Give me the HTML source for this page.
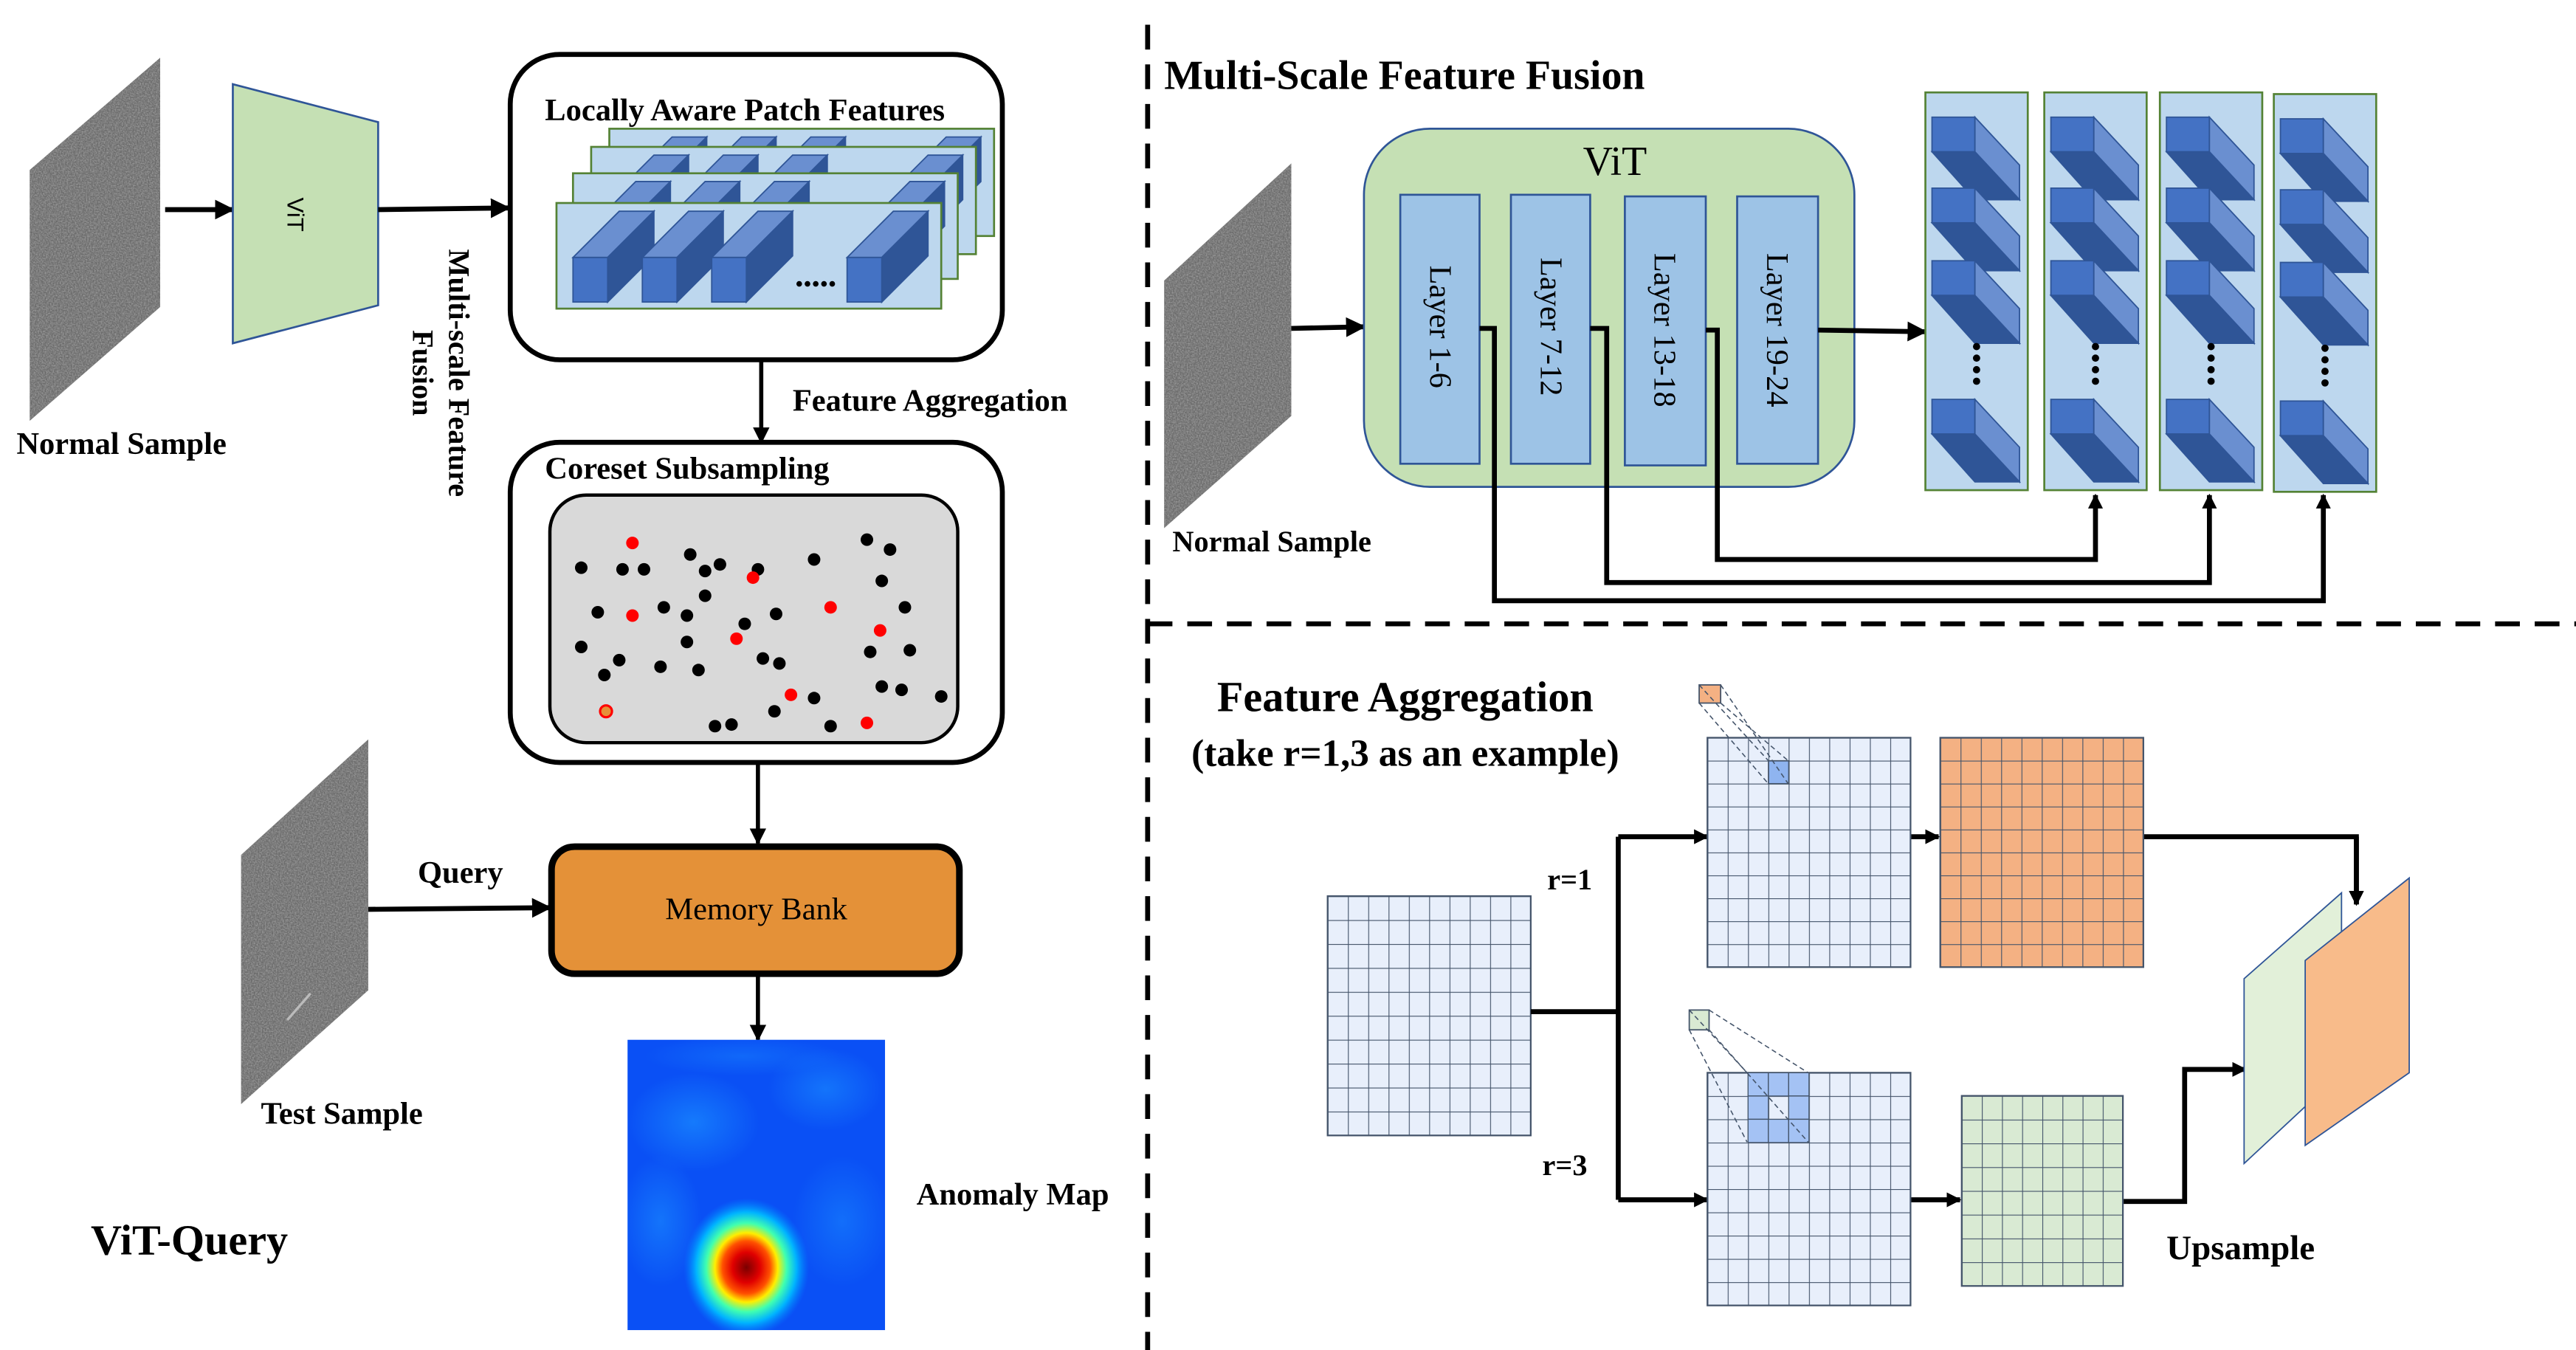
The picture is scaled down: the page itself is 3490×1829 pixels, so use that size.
<!DOCTYPE html>
<html><head><meta charset="utf-8"><style>
html,body{margin:0;padding:0;background:#fff;}
svg{display:block;}
text{font-family:"Liberation Serif",serif;}
.b{font-weight:bold;}
</style></head><body>
<svg width="3490" height="1829" viewBox="0 0 1560 818" preserveAspectRatio="none" xmlns="http://www.w3.org/2000/svg">
<defs>
<filter id="noise" x="0" y="0" width="100%" height="100%">
<feTurbulence type="fractalNoise" baseFrequency="1.2" numOctaves="2" seed="3" result="t"/>
<feColorMatrix in="t" type="matrix" values="0 0 0 0 0.45  0 0 0 0 0.45  0 0 0 0 0.45  1.2 0 0 0 -0.35" result="g"/>
<feComposite in="g" in2="SourceGraphic" operator="in"/>
</filter>
<marker id="ah" viewBox="0 0 10 10" refX="9" refY="5" markerWidth="4" markerHeight="4" markerUnits="strokeWidth" orient="auto"><path d="M0,0 L10,5 L0,10 z" fill="#000"/></marker>
<marker id="ah2" viewBox="0 0 10 10" refX="9" refY="5" markerWidth="3" markerHeight="3" orient="auto"><path d="M0,0 L10,5 L0,10 z" fill="#000"/></marker>
<pattern id="gIn" x="804" y="543" width="12.3" height="14.5" patternUnits="userSpaceOnUse"><rect width="12.3" height="14.5" fill="#e8effb"/><path d="M0,0H12.3M0,0V14.5" stroke="#44546a" stroke-width="1"/></pattern>
<pattern id="gTop" x="1034" y="447" width="12.3" height="13.9" patternUnits="userSpaceOnUse"><rect width="12.3" height="13.9" fill="#e8effb"/><path d="M0,0H12.3M0,0V13.9" stroke="#44546a" stroke-width="1"/></pattern>
<pattern id="gOr" x="1175" y="447" width="12.3" height="13.9" patternUnits="userSpaceOnUse"><rect width="12.3" height="13.9" fill="#f4b183"/><path d="M0,0H12.3M0,0V13.9" stroke="#44546a" stroke-width="1"/></pattern>
<pattern id="gBot" x="1034" y="650" width="12.3" height="14.1" patternUnits="userSpaceOnUse"><rect width="12.3" height="14.1" fill="#e8effb"/><path d="M0,0H12.3M0,0V14.1" stroke="#44546a" stroke-width="1"/></pattern>
<pattern id="gGr" x="1188" y="664" width="12.2" height="14.4" patternUnits="userSpaceOnUse"><rect width="12.2" height="14.4" fill="#d9ead3"/><path d="M0,0H12.2M0,0V14.4" stroke="#44546a" stroke-width="1"/></pattern>
<radialGradient id="hot" cx="0.5" cy="0.5" r="0.5">
<stop offset="0" stop-color="#7a0000"/><stop offset="0.22" stop-color="#e00000"/><stop offset="0.38" stop-color="#ff5000"/><stop offset="0.5" stop-color="#ffee00"/><stop offset="0.64" stop-color="#40ffb0"/><stop offset="0.8" stop-color="#00b4ff"/><stop offset="1" stop-color="#0080ff" stop-opacity="0"/>
</radialGradient>
<radialGradient id="lb" cx="0.5" cy="0.5" r="0.5"><stop offset="0" stop-color="#1a8cff"/><stop offset="1" stop-color="#1a8cff" stop-opacity="0"/></radialGradient>
<clipPath id="c1"><rect x="369" y="78" width="233" height="65"/></clipPath>
<clipPath id="c2"><rect x="358" y="89" width="233" height="65"/></clipPath>
<clipPath id="c3"><rect x="347" y="105" width="233" height="64"/></clipPath>
<clipPath id="cam"><rect x="380" y="630" width="156" height="176"/></clipPath>
<g id="cub">
<polygon points="0,0 21,0 49,-28 28,-28" fill="#6a8fd0" stroke="#2f5597" stroke-width="0.8"/>
<polygon points="21,0 49,-28 49,-1 21,27" fill="#2f5597" stroke="#2f5597" stroke-width="0.8"/>
<rect x="0" y="0" width="21" height="27" fill="#4472c4" stroke="#2f5597" stroke-width="0.8"/>
</g>
<g id="cub2">
<rect x="0" y="0" width="26" height="21" fill="#4472c4" stroke="#2f5597" stroke-width="0.8"/>
<polygon points="26,0 53,29 53,50 26,21" fill="#6a8fd0" stroke="#2f5597" stroke-width="0.8"/>
<polygon points="0,21 26,21 53,50 26,50" fill="#2f5597" stroke="#2f5597" stroke-width="0.8"/>
</g>
<g id="row">
<use href="#cub" x="10" y="33"/><use href="#cub" x="52" y="33"/><use href="#cub" x="94" y="33"/><use href="#cub" x="176" y="33"/>
</g>
<g id="col">
<rect x="0" y="0" width="62" height="241" fill="#bdd7ee" stroke="#548235" stroke-width="1.2"/>
<use href="#cub2" x="4" y="15"/><use href="#cub2" x="4" y="58"/><use href="#cub2" x="4" y="102"/>
<circle cx="31" cy="154" r="2.2" fill="#000"/><circle cx="31" cy="161" r="2.2" fill="#000"/><circle cx="31" cy="168" r="2.2" fill="#000"/><circle cx="31" cy="175" r="2.2" fill="#000"/>
<use href="#cub2" x="4" y="186"/>
</g>
</defs>

<line x1="695" y1="15" x2="695" y2="818" stroke="#000" stroke-width="3" stroke-dasharray="15,9"/>
<line x1="695" y1="378" x2="1560" y2="378" stroke="#000" stroke-width="3" stroke-dasharray="15,9"/>

<!-- LEFT PANEL -->
<polygon points="18,103 97,35 97,186 18,255" fill="#6a6a6a"/>
<polygon points="18,103 97,35 97,186 18,255" fill="#000" filter="url(#noise)"/>
<text x="10" y="275" class="b" font-size="19">Normal Sample</text>
<line x1="100" y1="127" x2="141" y2="127" stroke="#000" stroke-width="3" marker-end="url(#ah)"/>
<polygon points="141,51 229,74 229,185 141,208" fill="#c5e0b4" stroke="#2f5597" stroke-width="1.2"/>
<text font-size="14" text-anchor="middle" transform="translate(174,130) rotate(90)" style="font-family:'Liberation Sans',sans-serif">ViT</text>
<line x1="229" y1="127" x2="308" y2="126" stroke="#000" stroke-width="3" marker-end="url(#ah)"/>
<text class="b" font-size="18" text-anchor="middle" transform="translate(272,226) rotate(90)">Multi-scale Feature</text>
<text class="b" font-size="18" text-anchor="middle" transform="translate(250,226) rotate(90)">Fusion</text>

<rect x="309" y="33" width="298" height="185" rx="30" fill="#fff" stroke="#000" stroke-width="3"/>
<text x="330" y="73" class="b" font-size="19">Locally Aware Patch Features</text>
<rect x="369" y="78" width="233" height="65" fill="#bdd7ee" stroke="#548235" stroke-width="1.2"/>
<g clip-path="url(#c1)"><use href="#row" x="369" y="78"/></g>
<rect x="358" y="89" width="233" height="65" fill="#bdd7ee" stroke="#548235" stroke-width="1.2"/>
<g clip-path="url(#c2)"><use href="#row" x="358" y="89"/></g>
<rect x="347" y="105" width="233" height="64" fill="#bdd7ee" stroke="#548235" stroke-width="1.2"/>
<g clip-path="url(#c3)"><use href="#row" x="347" y="105"/></g>
<rect x="337" y="123" width="233" height="64" fill="#bdd7ee" stroke="#548235" stroke-width="1.2"/>
<use href="#row" x="337" y="123"/>
<circle cx="484" cy="172" r="1.7"/><circle cx="489" cy="172" r="1.7"/><circle cx="494" cy="172" r="1.7"/><circle cx="499" cy="172" r="1.7"/><circle cx="504" cy="172" r="1.7"/>

<line x1="461" y1="218" x2="461" y2="268" stroke="#000" stroke-width="2.5" marker-end="url(#ah)"/>
<text x="480" y="249" class="b" font-size="19">Feature Aggregation</text>

<rect x="309" y="268" width="298" height="194" rx="30" fill="#fff" stroke="#000" stroke-width="3"/>
<text x="330" y="290" class="b" font-size="19">Coreset Subsampling</text>
<rect x="333" y="300" width="247" height="150" rx="22" fill="#d9d9d9" stroke="#000" stroke-width="2"/>
<g fill="#000">
<circle cx="352" cy="344" r="3.8"/><circle cx="377" cy="345" r="3.8"/><circle cx="390" cy="345" r="3.8"/><circle cx="418" cy="336" r="3.8"/><circle cx="427" cy="346" r="3.8"/><circle cx="436" cy="342" r="3.8"/><circle cx="427" cy="361" r="3.8"/><circle cx="459" cy="345" r="3.8"/><circle cx="493" cy="339" r="3.8"/><circle cx="525" cy="327" r="3.8"/><circle cx="539" cy="333" r="3.8"/><circle cx="534" cy="352" r="3.8"/>
<circle cx="362" cy="371" r="3.8"/><circle cx="402" cy="368" r="3.8"/><circle cx="416" cy="373" r="3.8"/><circle cx="451" cy="378" r="3.8"/><circle cx="470" cy="372" r="3.8"/><circle cx="548" cy="368" r="3.8"/>
<circle cx="352" cy="392" r="3.8"/><circle cx="375" cy="400" r="3.8"/><circle cx="366" cy="409" r="3.8"/><circle cx="400" cy="404" r="3.8"/><circle cx="423" cy="406" r="3.8"/><circle cx="416" cy="389" r="3.8"/><circle cx="462" cy="399" r="3.8"/><circle cx="472" cy="402" r="3.8"/><circle cx="527" cy="395" r="3.8"/><circle cx="551" cy="394" r="3.8"/>
<circle cx="534" cy="416" r="3.8"/><circle cx="546" cy="418" r="3.8"/><circle cx="570" cy="422" r="3.8"/><circle cx="493" cy="423" r="3.8"/><circle cx="503" cy="440" r="3.8"/><circle cx="469" cy="431" r="3.8"/><circle cx="433" cy="440" r="3.8"/><circle cx="443" cy="439" r="3.8"/>
</g>
<g fill="#ff0000">
<circle cx="383" cy="329" r="3.8"/><circle cx="456" cy="350" r="3.8"/><circle cx="503" cy="368" r="3.8"/><circle cx="383" cy="373" r="3.8"/><circle cx="446" cy="387" r="3.8"/><circle cx="533" cy="382" r="3.8"/><circle cx="479" cy="421" r="3.8"/><circle cx="525" cy="438" r="3.8"/>
<circle cx="367" cy="431" r="3.6" stroke="#ff0000" fill="#e69138" stroke-width="1.4"/>
</g>

<line x1="459" y1="462" x2="459" y2="511" stroke="#000" stroke-width="2.5" marker-end="url(#ah)"/>
<rect x="334" y="513" width="247" height="77" rx="14" fill="#e49138" stroke="#000" stroke-width="4"/>
<text x="458" y="557" font-size="19" text-anchor="middle">Memory Bank</text>

<polygon points="146,518 223,448 223,600 146,669" fill="#6a6a6a"/>
<polygon points="146,518 223,448 223,600 146,669" fill="#000" filter="url(#noise)"/>
<line x1="174" y1="618" x2="188" y2="602" stroke="#bbb" stroke-width="1.5"/>
<text x="158" y="681" class="b" font-size="19">Test Sample</text>
<text x="253" y="535" class="b" font-size="19">Query</text>
<line x1="223" y1="551" x2="333" y2="550" stroke="#000" stroke-width="3" marker-end="url(#ah)"/>
<line x1="459" y1="590" x2="459" y2="630" stroke="#000" stroke-width="2.5" marker-end="url(#ah)"/>

<g clip-path="url(#cam)">
<rect x="380" y="630" width="156" height="176" fill="#0a50f5"/>
<ellipse cx="420" cy="680" rx="40" ry="30" fill="url(#lb)" opacity="0.7"/>
<ellipse cx="500" cy="660" rx="35" ry="25" fill="url(#lb)" opacity="0.6"/>
<ellipse cx="400" cy="740" rx="25" ry="40" fill="url(#lb)" opacity="0.6"/>
<ellipse cx="510" cy="740" rx="30" ry="40" fill="url(#lb)" opacity="0.5"/>
<ellipse cx="450" cy="640" rx="60" ry="12" fill="url(#lb)" opacity="0.4"/>
<ellipse cx="452" cy="768" rx="38" ry="42" fill="url(#hot)"/>
</g>
<text x="555" y="730" class="b" font-size="19">Anomaly Map</text>
<text x="55" y="760" class="b" font-size="26">ViT-Query</text>

<!-- RIGHT TOP -->
<text x="705" y="54" class="b" font-size="25">Multi-Scale Feature Fusion</text>
<polygon points="705,170 782,99 782,252 705,320" fill="#6a6a6a"/>
<polygon points="705,170 782,99 782,252 705,320" fill="#000" filter="url(#noise)"/>
<text x="710" y="334" class="b" font-size="18">Normal Sample</text>
<line x1="782" y1="199" x2="826" y2="198" stroke="#000" stroke-width="3" marker-end="url(#ah)"/>
<rect x="826" y="78" width="297" height="217" rx="40" fill="#c5e0b4" stroke="#2f5597" stroke-width="1.2"/>
<text x="978" y="106" font-size="25" text-anchor="middle">ViT</text>
<rect x="848" y="118" width="48" height="163" fill="#9dc3e6" stroke="#2f5597" stroke-width="1.2"/>
<rect x="915" y="118" width="48" height="163" fill="#9dc3e6" stroke="#2f5597" stroke-width="1.2"/>
<rect x="984" y="119" width="49" height="163" fill="#9dc3e6" stroke="#2f5597" stroke-width="1.2"/>
<rect x="1052" y="119" width="49" height="162" fill="#9dc3e6" stroke="#2f5597" stroke-width="1.2"/>
<text font-size="19" text-anchor="middle" transform="translate(866,198) rotate(90)">Layer 1-6</text>
<text font-size="19" text-anchor="middle" transform="translate(933,198) rotate(90)">Layer 7-12</text>
<text font-size="19" text-anchor="middle" transform="translate(1002,200) rotate(90)">Layer 13-18</text>
<text font-size="19" text-anchor="middle" transform="translate(1070,200) rotate(90)">Layer 19-24</text>
<line x1="1101" y1="200" x2="1166" y2="201" stroke="#000" stroke-width="3" marker-end="url(#ah)"/>

<use href="#col" x="1166" y="56"/>
<use href="#col" x="1238" y="56"/>
<use href="#col" x="1308" y="56"/>
<use href="#col" x="1377" y="57"/>

<g fill="none" stroke="#000" stroke-width="3">
<polyline points="896,199 905,199 905,364 1407,364 1407,300" marker-end="url(#ah2)"/>
<polyline points="963,199 973,199 973,353 1338,353 1338,300" marker-end="url(#ah2)"/>
<polyline points="1033,200 1040,200 1040,339 1269,339 1269,300" marker-end="url(#ah2)"/>
</g>

<!-- RIGHT BOTTOM -->
<text x="851" y="431" class="b" font-size="26" text-anchor="middle">Feature Aggregation</text>
<text x="851" y="464" class="b" font-size="23" text-anchor="middle">(take r=1,3 as an example)</text>

<rect x="804" y="543" width="123" height="145" fill="url(#gIn)" stroke="#44546a" stroke-width="1"/>
<g fill="none" stroke="#000" stroke-width="3">
<polyline points="927,613 980,613"/>
<polyline points="980,507 980,727"/>
<line x1="980" y1="507" x2="1034" y2="507" marker-end="url(#ah2)"/>
<line x1="980" y1="727" x2="1034" y2="727" marker-end="url(#ah2)"/>
<line x1="1157" y1="507" x2="1174" y2="507" marker-end="url(#ah2)"/>
<line x1="1157" y1="727" x2="1187" y2="727" marker-end="url(#ah2)"/>
<polyline points="1298,507 1427,507 1427,548" marker-end="url(#ah2)"/>
<polyline points="1285,728 1323,728 1323,648 1360,648" marker-end="url(#ah2)"/>
</g>
<text x="937" y="539" class="b" font-size="18">r=1</text>
<text x="934" y="712" class="b" font-size="18">r=3</text>

<rect x="1034" y="447" width="123" height="139" fill="url(#gTop)" stroke="#44546a" stroke-width="1"/>
<rect x="1071" y="461" width="12.3" height="13.9" fill="#8fb4f0" stroke="#44546a" stroke-width="0.8"/>
<rect x="1029" y="415" width="13" height="11" fill="#f4b183" stroke="#44546a" stroke-width="0.8"/>
<g stroke="#44546a" stroke-width="0.7" stroke-dasharray="3,2" fill="none">
<line x1="1029" y1="426" x2="1071" y2="475"/><line x1="1042" y1="415" x2="1083" y2="475"/><line x1="1029" y1="415" x2="1071" y2="461"/><line x1="1042" y1="426" x2="1083" y2="461"/>
</g>
<rect x="1175" y="447" width="123" height="139" fill="url(#gOr)" stroke="#44546a" stroke-width="1"/>

<rect x="1034" y="650" width="123" height="141" fill="url(#gBot)" stroke="#44546a" stroke-width="1"/>
<g fill="#a4c2f4" stroke="#44546a" stroke-width="0.6">
<rect x="1058.6" y="650" width="12.3" height="14.1"/><rect x="1070.9" y="650" width="12.3" height="14.1"/><rect x="1083.2" y="650" width="12.3" height="14.1"/>
<rect x="1058.6" y="664.1" width="12.3" height="14.1"/><rect x="1083.2" y="664.1" width="12.3" height="14.1"/>
<rect x="1058.6" y="678.2" width="12.3" height="14.1"/><rect x="1070.9" y="678.2" width="12.3" height="14.1"/><rect x="1083.2" y="678.2" width="12.3" height="14.1"/>
</g>
<rect x="1023" y="612" width="12" height="12" fill="#d9ead3" stroke="#44546a" stroke-width="0.8"/>
<g stroke="#44546a" stroke-width="0.7" stroke-dasharray="3,2" fill="none">
<line x1="1023" y1="624" x2="1058" y2="692"/><line x1="1035" y1="612" x2="1095" y2="650"/><line x1="1035" y1="624" x2="1095" y2="692"/><line x1="1023" y1="612" x2="1058" y2="650"/>
</g>
<rect x="1188" y="664" width="97.6" height="115.2" fill="url(#gGr)" stroke="#44546a" stroke-width="1"/>

<polygon points="1359,593 1418,541 1418,650 1359,705" fill="#e2f0d9" stroke="#2f5597" stroke-width="0.8"/>
<polygon points="1396,582 1459,532 1459,650 1396,694" fill="#f8bb8a" stroke="#2f5597" stroke-width="0.8"/>
<line x1="1427" y1="507" x2="1427" y2="548" stroke="#000" stroke-width="3" marker-end="url(#ah2)"/>
<text x="1312" y="763" class="b" font-size="21">Upsample</text>
</svg>
</body></html>
